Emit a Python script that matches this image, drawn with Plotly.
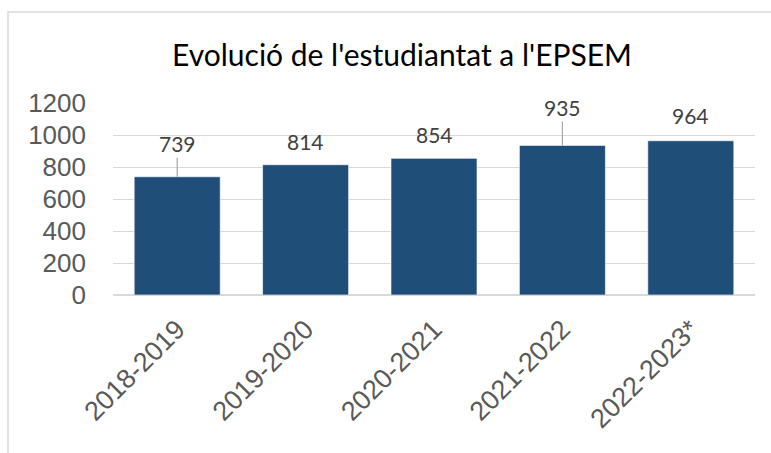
import plotly.graph_objects as go

categories = ["2018-2019", "2019-2020", "2020-2021", "2021-2022", "2022-2023*"]
students = [739, 814, 854, 935, 964]
y_ticks = [0, 200, 400, 600, 800, 1000, 1200]

# label offsets above bar tops (pixels) and whether a leader line is drawn
label_offsets = [33, 23, 24, 38, 25]
leader_lines = [True, False, False, True, False]

W, H = 771, 453
L, R, T, B = 113, 16, 103, 158

fig = go.Figure()
fig.add_trace(go.Bar(
    x=categories, y=students,
    marker=dict(color="#1F4E79", line=dict(color="rgba(255,255,255,0.6)", width=1)),
    hoverinfo="x+y",
))

for c, v, off, lead in zip(categories, students, label_offsets, leader_lines):
    fig.add_annotation(
        x=c, y=v, xref="x", yref="y",
        text=str(v), showarrow=True, arrowhead=0, arrowwidth=1.2,
        arrowcolor="#A6A6A6" if lead else "rgba(0,0,0,0)",
        ax=0, ay=-off, standoff=0,
        font=dict(family="Lato", size=21, color="#404040"),
    )

# chart border (light grey frame)
pw = W - L - R
ph = H - T - B
fig.add_shape(type="rect", xref="paper", yref="paper",
              x0=(8 - L) / pw, x1=(W + 10 - L) / pw,
              y0=-(H + 10 - T - ph) / ph, y1=1 + (T - 12) / ph,
              line=dict(color="#D9D9D9", width=1.5), fillcolor="rgba(0,0,0,0)", layer="below")

yfont = dict(family="Arial, Liberation Sans, sans-serif", size=26, color="#595959")
xfont = dict(family="Arial, Liberation Sans, sans-serif", size=27, color="#595959")

fig.update_layout(
    width=W, height=H,
    margin=dict(l=L, r=R, t=T, b=B, pad=0, autoexpand=False),
    paper_bgcolor="white", plot_bgcolor="white",
    bargap=0.33,
    showlegend=False,
    title=dict(text="Evolució de l'estudiantat a l'EPSEM",
               x=402 / W, xanchor="center", xref="container",
               y=1 - 55 / H, yanchor="middle", yref="container",
               font=dict(family="Lato", size=30, color="#000000")),
    xaxis=dict(tickangle=-45, tickfont=xfont, automargin=False,
               showgrid=False, showline=False, ticks="", ticklabelstandoff=12),
    yaxis=dict(range=[0, 1200], tickvals=y_ticks, ticktext=[str(t) for t in y_ticks],
               tickfont=yfont, automargin=False,
               showgrid=True, gridcolor="#D9D9D9", gridwidth=1,
               zeroline=True, zerolinecolor="#D9D9D9", zerolinewidth=1.5,
               showline=False, ticks="", ticklabelstandoff=26),
)

fig.write_html("out.html", config={"displayModeBar": False},
               post_script="document.body.style.margin='0';document.body.style.padding='0';")
